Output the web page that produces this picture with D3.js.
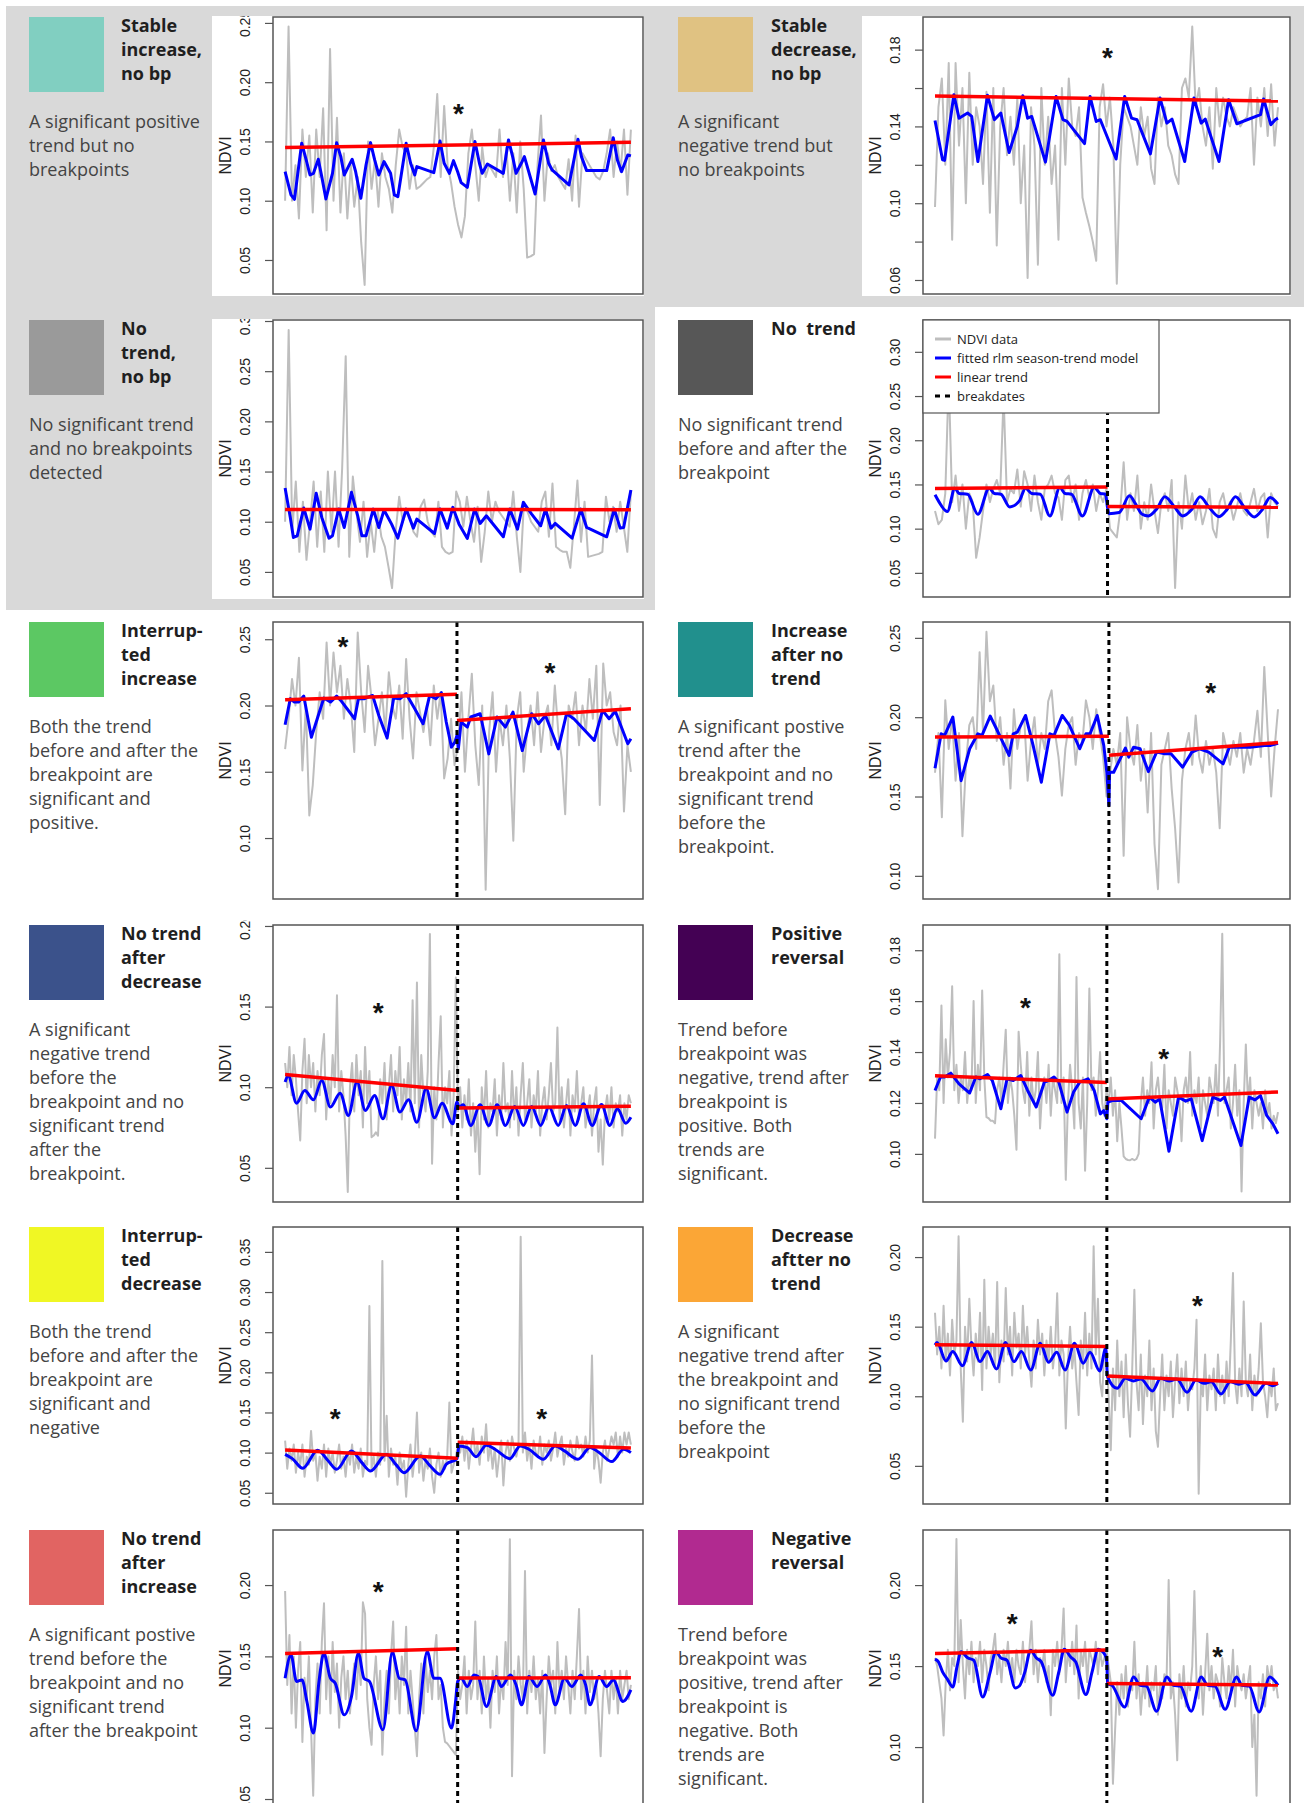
<!DOCTYPE html>
<html>
<head>
<meta charset="utf-8">
<title>NDVI trend classes</title>
<script src="https://cdn.jsdelivr.net/npm/d3@7"></script>
<style>
  body { margin: 0; background: #fff; }
  svg { display: block; }
  .title { font-family: 'Open Sans', sans-serif; font-weight: 700; font-size: 18px; fill: #1f1f1f; white-space: pre; }
  .desc { font-family: 'Open Sans', sans-serif; font-size: 18px; fill: #444; }
  .legend text { font-family: 'Open Sans', sans-serif; font-size: 13px; fill: #222; }
</style>
</head>
<body>
<script>

// stable increase, no bp
let stableIncNdvi = [0.10, 0.247, 0.10, 0.13, 0.085, 0.16, 0.12, 0.155, 0.09, 0.16, 0.12, 0.178, 0.075, 0.228, 0.1, 0.17, 0.09, 0.14, 0.085, 0.13, 0.095, 0.12, 0.065, 0.029, 0.15, 0.11, 0.135, 0.095, 0.14, 0.12, 0.11, 0.09, 0.13, 0.16, 0.145, 0.14, 0.11, 0.13, 0.11, 0.112, 0.115, 0.118, 0.12, 0.145, 0.19, 0.12, 0.18, 0.13, 0.115, 0.095, 0.08, 0.069, 0.087, 0.14, 0.16, 0.13, 0.1, 0.145, 0.12, 0.13, 0.125, 0.12, 0.16, 0.12, 0.145, 0.1, 0.14, 0.09, 0.15, 0.11, 0.052, 0.053, 0.055, 0.13, 0.172, 0.10, 0.14, 0.125, 0.13, 0.12, 0.115, 0.11, 0.135, 0.10, 0.155, 0.095, 0.14, 0.135, 0.13, 0.125, 0.12, 0.118, 0.125, 0.14, 0.16, 0.12, 0.15, 0.125, 0.16, 0.105, 0.16]
let stableIncFit = [[0, 0.1245], [1.7, 0.1049], [2.7, 0.1012], [4.8, 0.1485], [6.1, 0.1344], [7.2, 0.1217], [8.2, 0.1231], [9.6, 0.135], [10.6, 0.1203], [11.8, 0.1015], [13.7, 0.1231], [14.9, 0.149], [16.1, 0.1372], [17.1, 0.1217], [18.3, 0.1288], [19.4, 0.135], [20.4, 0.1245], [21.9, 0.102], [23.4, 0.1302], [24.7, 0.149], [25.9, 0.1344], [27.1, 0.1217], [28.6, 0.133], [30.5, 0.1231], [31.6, 0.1049], [32.6, 0.1034], [33.5, 0.1203], [35, 0.1485], [36.3, 0.1316], [37.5, 0.1217], [38.1, 0.1288], [43, 0.1237], [44.8, 0.1504], [46, 0.1316], [47.5, 0.1231], [48.7, 0.1338], [49.9, 0.1245], [50.9, 0.1153], [52.7, 0.1113], [54.9, 0.1499], [56.2, 0.1316], [57, 0.1231], [58.5, 0.131], [63.1, 0.1231], [64.6, 0.1513], [65.8, 0.1372], [66.8, 0.1231], [68.3, 0.1316], [69.2, 0.1372], [72.3, 0.1057], [74.7, 0.1513], [76.2, 0.1316], [77.2, 0.126], [82.1, 0.1133], [84.7, 0.1518], [85.7, 0.1372], [87.2, 0.1254], [93, 0.1254], [94.9, 0.1532], [96.1, 0.1344], [97.3, 0.1245], [99.1, 0.1386], [100, 0.1378]]

// stable decrease, no bp
let stableDecNdvi = [0.098, 0.15, 0.165, 0.12, 0.173, 0.081, 0.173, 0.13, 0.16, 0.10, 0.168, 0.12, 0.15, 0.14, 0.11, 0.158, 0.095, 0.16, 0.078, 0.14, 0.16, 0.125, 0.145, 0.12, 0.155, 0.10, 0.13, 0.061, 0.15, 0.13, 0.068, 0.16, 0.12, 0.145, 0.11, 0.13, 0.081, 0.16, 0.12, 0.165, 0.14, 0.135, 0.15, 0.103, 0.095, 0.088, 0.08, 0.07, 0.15, 0.162, 0.14, 0.155, 0.13, 0.058, 0.12, 0.15, 0.145, 0.14, 0.13, 0.12, 0.15, 0.135, 0.145, 0.118, 0.11, 0.155, 0.14, 0.15, 0.13, 0.125, 0.115, 0.11, 0.16, 0.165, 0.155, 0.192, 0.15, 0.16, 0.14, 0.13, 0.15, 0.118, 0.16, 0.14, 0.155, 0.145, 0.14, 0.15, 0.145, 0.14, 0.143, 0.145, 0.16, 0.12, 0.155, 0.14, 0.16, 0.135, 0.162, 0.13, 0.15]
let stableDecFit = [[0, 0.1431], [2.2, 0.1226], [2.8, 0.1223], [5.5, 0.1565], [7.0, 0.1443], [8.2, 0.1456], [9.5, 0.147], [10.7, 0.1452], [12.5, 0.1217], [15.3, 0.1562], [17.3, 0.1435], [19.2, 0.147], [21.6, 0.1264], [24.0, 0.14], [25.6, 0.156], [27.0, 0.1443], [28.2, 0.1452], [32.2, 0.1214], [35.3, 0.1556], [37.3, 0.1435], [38.5, 0.1426], [43.6, 0.131], [45.2, 0.1556], [47.0, 0.1426], [48.2, 0.1435], [52.8, 0.123], [55.3, 0.1556], [57.3, 0.1443], [58.9, 0.1435], [62.8, 0.1257], [65.6, 0.1548], [67.6, 0.1417], [69.1, 0.1438], [72.8, 0.1217], [75.5, 0.1548], [77.6, 0.1417], [78.8, 0.1438], [82.8, 0.1217], [85.6, 0.1539], [88.0, 0.1414], [94.9, 0.1461], [95.8, 0.1543], [97.9, 0.1409], [99.2, 0.1435], [100, 0.1443]]

// no trend, no bp
let noTrendNdvi = [0.10, 0.291, 0.09, 0.14, 0.07, 0.12, 0.062, 0.10, 0.14, 0.075, 0.13, 0.07, 0.15, 0.09, 0.15, 0.075, 0.153, 0.265, 0.065, 0.145, 0.11, 0.08, 0.12, 0.065, 0.10, 0.07, 0.11, 0.085, 0.075, 0.055, 0.034, 0.09, 0.125, 0.10, 0.11, 0.105, 0.09, 0.085, 0.115, 0.122, 0.10, 0.09, 0.085, 0.12, 0.075, 0.07, 0.068, 0.07, 0.13, 0.12, 0.095, 0.125, 0.10, 0.08, 0.115, 0.06, 0.09, 0.13, 0.10, 0.12, 0.11, 0.105, 0.10, 0.095, 0.13, 0.085, 0.05, 0.12, 0.11, 0.10, 0.095, 0.09, 0.12, 0.13, 0.085, 0.138, 0.075, 0.072, 0.07, 0.07, 0.054, 0.095, 0.141, 0.08, 0.12, 0.065, 0.066, 0.067, 0.068, 0.07, 0.125, 0.10, 0.115, 0.09, 0.12, 0.095, 0.07, 0.13]
let noTrendFit = [[0, 0.1336], [1.5, 0.1043], [2.4, 0.0843], [3.5, 0.086], [5.4, 0.1136], [7.2, 0.0926], [9.0, 0.1283], [10.6, 0.1043], [12.7, 0.0836], [13.7, 0.086], [15.5, 0.1126], [17.1, 0.0943], [19.2, 0.1293], [21.0, 0.1059], [22.2, 0.086], [23.4, 0.086], [25.5, 0.1126], [27.1, 0.0943], [28.6, 0.1116], [30.8, 0.0976], [32.6, 0.0836], [35.0, 0.1126], [37.1, 0.0936], [38.1, 0.1026], [43.2, 0.0883], [44.8, 0.1126], [46.9, 0.0936], [48.5, 0.1143], [50.3, 0.0976], [52.7, 0.0833], [54.8, 0.1126], [56.4, 0.0983], [58.2, 0.1059], [63.1, 0.085], [65.0, 0.1126], [67.2, 0.0926], [68.9, 0.1193], [71.3, 0.1076], [73.9, 0.096], [75.3, 0.1126], [76.9, 0.0936], [78.1, 0.0983], [83.0, 0.0836], [85.5, 0.1126], [87.2, 0.0943], [93.0, 0.085], [95.2, 0.1126], [96.9, 0.0936], [97.9, 0.0943], [100, 0.1316]]

// no trend, with breakpoint
let noTrendBpNdvi = [0.12, 0.105, 0.11, 0.14, 0.27, 0.13, 0.16, 0.12, 0.15, 0.10, 0.14, 0.13, 0.067, 0.09, 0.12, 0.15, 0.13, 0.145, 0.155, 0.14, 0.25, 0.13, 0.145, 0.14, 0.167, 0.125, 0.165, 0.15, 0.12, 0.16, 0.13, 0.11, 0.145, 0.15, 0.16, 0.14, 0.135, 0.11, 0.155, 0.16, 0.13, 0.15, 0.11, 0.14, 0.155, 0.135, 0.15, 0.12, 0.14, 0.13, 0.145, 0.10, 0.095, 0.09, 0.12, 0.175, 0.11, 0.14, 0.12, 0.16, 0.10, 0.13, 0.11, 0.15, 0.12, 0.095, 0.13, 0.14, 0.12, 0.155, 0.033, 0.13, 0.10, 0.16, 0.12, 0.14, 0.11, 0.13, 0.105, 0.12, 0.145, 0.10, 0.09, 0.13, 0.14, 0.12, 0.13, 0.11, 0.125, 0.14, 0.12, 0.115, 0.13, 0.145, 0.12, 0.135, 0.14, 0.09, 0.14, 0.13, 0.125]
let noTrendBpFit = [[0, 0.1383], [1.0, 0.1314], [3.6, 0.1193], [5.8, 0.1458], [7.0, 0.1398], [9.5, 0.139], [12.5, 0.1163], [15.8, 0.1458], [17.3, 0.1398], [19.2, 0.139], [21.8, 0.1246], [24.6, 0.1314], [26.4, 0.1458], [28.2, 0.1398], [30.7, 0.139], [33.5, 0.1144], [36.4, 0.1466], [37.9, 0.1398], [39.8, 0.139], [43.0, 0.1144], [46.4, 0.1466], [48.2, 0.1398], [49.7, 0.139], [50.3, 0.1239], [50.7, 0.117], [53.7, 0.1182], [56.7, 0.1371], [58.5, 0.1277], [60.4, 0.1163], [62.2, 0.1144], [64.6, 0.122], [67.0, 0.136], [69.8, 0.1246], [72.2, 0.1144], [74.9, 0.122], [77.3, 0.136], [79.8, 0.1246], [82.8, 0.1136], [85.2, 0.122], [87.6, 0.136], [90.1, 0.1246], [93.1, 0.1133], [95.5, 0.122], [97.7, 0.1352], [100, 0.1277]]

// interrupted increase
let intIncNdvi = [0.167, 0.19, 0.22, 0.20, 0.236, 0.151, 0.20, 0.117, 0.14, 0.18, 0.21, 0.19, 0.2475, 0.20, 0.24, 0.21, 0.23, 0.19, 0.22, 0.20, 0.165, 0.255, 0.21, 0.18, 0.23, 0.205, 0.17, 0.19, 0.21, 0.18, 0.225, 0.20, 0.19, 0.215, 0.175, 0.235, 0.19, 0.16, 0.21, 0.195, 0.18, 0.20, 0.17, 0.215, 0.19, 0.21, 0.145, 0.16, 0.19, 0.155, 0.17, 0.21, 0.15, 0.19, 0.224, 0.17, 0.14, 0.20, 0.061, 0.18, 0.21, 0.15, 0.19, 0.17, 0.20, 0.16, 0.098, 0.19, 0.21, 0.15, 0.18, 0.20, 0.17, 0.21, 0.165, 0.19, 0.20, 0.17, 0.215, 0.18, 0.16, 0.118, 0.20, 0.19, 0.21, 0.17, 0.20, 0.18, 0.22, 0.19, 0.23, 0.125, 0.2316, 0.20, 0.21, 0.18, 0.17, 0.20, 0.12, 0.17, 0.15]
let intIncFit = [[0, 0.1855], [1.5, 0.2051], [2.7, 0.2026], [3.9, 0.2026], [5.4, 0.2071], [7.6, 0.1761], [11.2, 0.2056], [13.1, 0.2026], [14.9, 0.2071], [16.1, 0.2039], [20.1, 0.19], [21.2, 0.2051], [22.8, 0.2051], [25.3, 0.2076], [27.1, 0.1925], [29.5, 0.1754], [31.4, 0.2056], [33.2, 0.2051], [35.0, 0.2089], [37.5, 0.1976], [39.9, 0.1862], [41.8, 0.2076], [43.6, 0.2051], [45.2, 0.2097], [46.6, 0.1875], [48.1, 0.1686], [49.1, 0.1724], [49.7, 0.1774], [50.1, 0.1673], [50.9, 0.1875], [52.7, 0.1837], [53.7, 0.1913], [56.4, 0.1938], [58.9, 0.1635], [61.3, 0.1913], [63.7, 0.1837], [65.9, 0.195], [68.6, 0.166], [71.3, 0.1938], [73.3, 0.1862], [75.3, 0.1925], [79.0, 0.1673], [81.4, 0.1938], [83.5, 0.19], [89.4, 0.1736], [91.8, 0.1963], [93.7, 0.19], [95.5, 0.1956], [99.1, 0.1711], [100, 0.1749]]

// increase after no trend
let incAfterNdvi = [0.165, 0.19, 0.137, 0.2106, 0.18, 0.20, 0.16, 0.19, 0.125, 0.17, 0.195, 0.20, 0.18, 0.241, 0.19, 0.2538, 0.21, 0.22, 0.185, 0.20, 0.17, 0.19, 0.155, 0.205, 0.18, 0.195, 0.20, 0.16, 0.185, 0.20, 0.17, 0.19, 0.18, 0.21, 0.2169, 0.19, 0.175, 0.1506, 0.18, 0.195, 0.20, 0.17, 0.19, 0.185, 0.2106, 0.20, 0.18, 0.205, 0.19, 0.175, 0.15, 0.165, 0.18, 0.17, 0.19, 0.1126, 0.20, 0.18, 0.17, 0.195, 0.16, 0.18, 0.14, 0.19, 0.12, 0.0916, 0.17, 0.18, 0.19, 0.155, 0.13, 0.0958, 0.16, 0.18, 0.19, 0.17, 0.2011, 0.175, 0.165, 0.185, 0.17, 0.18, 0.165, 0.13, 0.19, 0.18, 0.17, 0.185, 0.175, 0.19, 0.165, 0.18, 0.17, 0.185, 0.204, 0.175, 0.2317, 0.19, 0.15, 0.18, 0.205]
let incAfterFit = [[0, 0.1678], [1.8, 0.1895], [2.8, 0.1885], [5.2, 0.2001], [7.6, 0.16], [10.1, 0.1801], [12.5, 0.1895], [13.7, 0.1885], [16.1, 0.2007], [17.9, 0.1927], [21.6, 0.1759], [22.8, 0.1895], [24.0, 0.1906], [26.4, 0.2011], [28.6, 0.1822], [31.0, 0.159], [33.5, 0.1895], [34.7, 0.1885], [37.1, 0.2011], [39.2, 0.1948], [42.2, 0.1801], [44.0, 0.1895], [45.2, 0.1895], [47.3, 0.2011], [49.2, 0.1822], [50.1, 0.1653], [50.7, 0.1442], [50.9, 0.1653], [52.1, 0.1653], [55.5, 0.1805], [56.5, 0.1748], [57.9, 0.1811], [59.8, 0.1801], [62.2, 0.1657], [64.6, 0.178], [67.0, 0.1769], [68.8, 0.1769], [72.2, 0.1685], [74.9, 0.178], [77.1, 0.1801], [79.8, 0.178], [84.0, 0.1706], [85.8, 0.1811], [91.9, 0.1811], [96.1, 0.1822], [97.9, 0.1822], [100, 0.1836]]

// no trend after decrease
let flatAfterDecNdvi = [0.115, 0.10, 0.125, 0.095, 0.12, 0.105, 0.085, 0.067, 0.11, 0.13,
  0.09, 0.12, 0.10, 0.115, 0.085, 0.11, 0.095, 0.12, 0.133, 0.08,
  0.105, 0.09, 0.12, 0.10, 0.157, 0.085, 0.11, 0.095, 0.07, 0.035,
  0.10, 0.115, 0.085, 0.12, 0.095, 0.11, 0.075, 0.125, 0.09, 0.11,
  0.069, 0.07, 0.072, 0.07, 0.105, 0.09, 0.115, 0.08, 0.10, 0.12,
  0.085, 0.11, 0.095, 0.125, 0.08, 0.105, 0.09, 0.115, 0.085, 0.154,
  0.09, 0.165, 0.075, 0.12, 0.095, 0.085, 0.11, 0.195, 0.0525, 0.10,
  0.08, 0.115, 0.144, 0.075, 0.10, 0.09, 0.11, 0.07, 0.095, 0.168,
  0.085, 0.10, 0.075, 0.095, 0.08, 0.105, 0.07, 0.09, 0.06, 0.085,
  0.046, 0.10, 0.08, 0.11, 0.075, 0.09, 0.085, 0.105, 0.07, 0.095,
  0.08, 0.115, 0.085, 0.09, 0.075, 0.11, 0.08, 0.1, 0.07, 0.095,
  0.115, 0.08, 0.09, 0.105, 0.075, 0.095, 0.085, 0.11, 0.07, 0.09,
  0.10, 0.08, 0.095, 0.115, 0.085, 0.09, 0.137, 0.08, 0.10, 0.075,
  0.09, 0.105, 0.07, 0.095, 0.085, 0.11, 0.08, 0.09, 0.1, 0.075,
  0.085, 0.095, 0.07, 0.09, 0.10, 0.06, 0.08, 0.052, 0.085, 0.095,
  0.08, 0.10, 0.075, 0.09, 0.085, 0.095, 0.07, 0.09, 0.08, 0.095, 0.09]
let flatAfterDecFit = [[0, 0.1032], [0.9, 0.1073], [3.3, 0.0901], [5.7, 0.098], [8.2, 0.0922], [10.6, 0.1042], [13.1, 0.0877], [15.9, 0.0963], [18.3, 0.0825], [20.8, 0.1032], [23.2, 0.0856], [25.9, 0.0949], [28.3, 0.0804], [30.8, 0.1011], [33.2, 0.0846], [35.7, 0.0922], [38.1, 0.0783], [40.8, 0.099], [43.2, 0.081], [45.4, 0.0901], [48.5, 0.0773], [49.7, 0.0908], [50.3, 0.0877], [51.5, 0.0891], [53.7, 0.0763], [56.4, 0.0891], [58.9, 0.0763], [61.3, 0.0891], [63.7, 0.0763], [66.4, 0.0881], [68.9, 0.0763], [71.3, 0.0881], [73.9, 0.0763], [76.3, 0.0877], [79.0, 0.0763], [81.4, 0.0887], [83.9, 0.0763], [86.3, 0.0897], [88.8, 0.0763], [91.5, 0.0893], [93.9, 0.0763], [96.1, 0.0866], [98.5, 0.0777], [100, 0.0814]]

// positive reversal
let posRevNdvi = [0.106, 0.13, 0.125, 0.1583, 0.12, 0.145, 0.13, 0.14, 0.1658, 0.125,
  0.135, 0.12, 0.13, 0.125, 0.14, 0.12, 0.13, 0.125, 0.16, 0.12,
  0.135, 0.125, 0.1642, 0.13, 0.1144, 0.114, 0.113, 0.113, 0.112, 0.125,
  0.13, 0.12, 0.135, 0.1488, 0.12, 0.13, 0.125, 0.115, 0.1016, 0.148,
  0.135, 0.125, 0.12, 0.14, 0.115, 0.13, 0.12, 0.125, 0.14, 0.11,
  0.125, 0.13, 0.12, 0.135, 0.115, 0.13, 0.125, 0.12, 0.1784, 0.12,
  0.13, 0.0898, 0.12, 0.135, 0.125, 0.11, 0.1695, 0.12, 0.11, 0.13,
  0.0934, 0.12, 0.165, 0.125, 0.13, 0.115, 0.125, 0.14, 0.12, 0.115,
  0.125, 0.12, 0.13, 0.115, 0.125, 0.105, 0.12, 0.11, 0.099, 0.098,
  0.0976, 0.0975, 0.098, 0.0975, 0.098, 0.10, 0.12, 0.13, 0.115, 0.125,
  0.12, 0.136, 0.11, 0.125, 0.13, 0.12, 0.118, 0.135, 0.11, 0.125,
  0.12, 0.115, 0.13, 0.125, 0.12, 0.105, 0.125, 0.13, 0.12, 0.14,
  0.115, 0.125, 0.12, 0.13, 0.11, 0.125, 0.12, 0.115, 0.13, 0.125,
  0.12, 0.135, 0.115, 0.1439, 0.1865, 0.12, 0.125, 0.13, 0.11, 0.12,
  0.135, 0.115, 0.125, 0.0852, 0.12, 0.143, 0.12, 0.13, 0.11, 0.125,
  0.12, 0.115, 0.12, 0.11, 0.125, 0.115, 0.12, 0.11, 0.115, 0.112, 0.1164]
let posRevFit = [[0, 0.1249], [1.6, 0.1302], [2.8, 0.1302], [4.6, 0.1317], [7.0, 0.1275], [10.1, 0.1239], [11.9, 0.1302], [13.1, 0.1295], [15.3, 0.1312], [16.7, 0.1288], [19.2, 0.1177], [21.0, 0.1295], [22.8, 0.1288], [25.0, 0.1308], [27.0, 0.1249], [29.5, 0.1184], [31.9, 0.1282], [33.1, 0.1288], [34.7, 0.1302], [36.1, 0.1282], [38.5, 0.1164], [40.4, 0.1243], [42.2, 0.1282], [44.6, 0.1295], [46.4, 0.1249], [48.2, 0.1157], [49.2, 0.117], [50.1, 0.1138], [50.4, 0.1203], [51.9, 0.121], [54.3, 0.121], [60.1, 0.1138], [62.5, 0.1223], [64.2, 0.1203], [65.5, 0.1216], [68.2, 0.101], [71.0, 0.1223], [73.1, 0.1207], [74.7, 0.1216], [77.9, 0.1052], [81.0, 0.1223], [83.2, 0.121], [84.4, 0.1223], [89.2, 0.1033], [91.6, 0.1223], [93.3, 0.1212], [94.9, 0.1229], [96.7, 0.1151], [98.5, 0.1118], [100, 0.1079]]

// interrupted decrease
let intDecNdvi = [0.115, 0.08, 0.105, 0.09, 0.11, 0.075, 0.10, 0.085, 0.11, 0.07,
  0.095, 0.085, 0.127, 0.09, 0.10, 0.065, 0.095, 0.08, 0.11, 0.07,
  0.105, 0.085, 0.10, 0.075, 0.09, 0.11, 0.08, 0.095, 0.07, 0.10,
  0.085, 0.11, 0.075, 0.095, 0.08, 0.105, 0.07, 0.09, 0.085, 0.2825,
  0.08, 0.095, 0.07, 0.10, 0.085, 0.3388, 0.09, 0.1458, 0.07, 0.105,
  0.085, 0.095, 0.06, 0.10, 0.08, 0.09, 0.045, 0.085, 0.11, 0.07,
  0.095, 0.15, 0.075, 0.10, 0.065, 0.09, 0.08, 0.105, 0.07, 0.05,
  0.085, 0.10, 0.07, 0.09, 0.08, 0.095, 0.1625, 0.075, 0.085, 0.095,
  0.11, 0.10, 0.12, 0.09, 0.115, 0.08, 0.105, 0.13, 0.095, 0.11,
  0.085, 0.12, 0.10, 0.1354, 0.09, 0.11, 0.08, 0.105, 0.07, 0.095,
  0.115, 0.059, 0.10, 0.115, 0.09, 0.12, 0.105, 0.095, 0.11, 0.3688,
  0.10, 0.125, 0.09, 0.11, 0.08, 0.115, 0.10, 0.095, 0.12, 0.085,
  0.11, 0.10, 0.115, 0.09, 0.105, 0.125, 0.095, 0.11, 0.12, 0.085,
  0.105, 0.095, 0.115, 0.10, 0.09, 0.12, 0.105, 0.11, 0.095, 0.12,
  0.10, 0.115, 0.2208, 0.08, 0.105, 0.09, 0.0625, 0.10, 0.115, 0.09,
  0.105, 0.12, 0.11, 0.125, 0.095, 0.12, 0.10, 0.125, 0.11, 0.125, 0.11]
let intDecFit = [[0, 0.0979], [2.1, 0.0925], [5.1, 0.0804], [9.4, 0.1029], [12.5, 0.0896], [14.9, 0.0792], [19.2, 0.1021], [22.2, 0.0875], [24.7, 0.0771], [29.3, 0.0979], [32.0, 0.0854], [34.4, 0.075], [39.1, 0.0958], [41.8, 0.0842], [44.8, 0.0729], [46.6, 0.0854], [49.7, 0.0925], [50.3, 0.1083], [52.7, 0.1063], [55.2, 0.095], [58.2, 0.1092], [60.7, 0.1042], [65.0, 0.0925], [68.0, 0.1083], [70.5, 0.1042], [74.7, 0.0917], [78.1, 0.1083], [80.8, 0.1021], [84.7, 0.0917], [88.2, 0.1063], [90.6, 0.1008], [94.5, 0.0888], [97.9, 0.1042], [100, 0.1000]]

// decrease after no trend
let decAfterNdvi = [0.16, 0.13, 0.15, 0.12, 0.165, 0.125, 0.145, 0.115, 0.155, 0.13,
  0.14, 0.2149, 0.12, 0.0817, 0.15, 0.125, 0.17, 0.135, 0.115, 0.145,
  0.125, 0.16, 0.1045, 0.1837, 0.12, 0.15, 0.13, 0.145, 0.12, 0.182,
  0.11, 0.14, 0.125, 0.1777, 0.13, 0.15, 0.115, 0.16, 0.135, 0.145,
  0.12, 0.165, 0.13, 0.15, 0.125, 0.1069, 0.14, 0.12, 0.155, 0.13,
  0.145, 0.115, 0.14, 0.125, 0.15, 0.12, 0.135, 0.174, 0.115, 0.14,
  0.13, 0.0769, 0.125, 0.15, 0.12, 0.135, 0.11, 0.0865, 0.14, 0.12,
  0.16, 0.115, 0.145, 0.12, 0.2077, 0.13, 0.17, 0.11, 0.10, 0.135,
  0.125, 0.10, 0.0613, 0.12, 0.09, 0.14, 0.10, 0.125, 0.085, 0.13,
  0.095, 0.0709, 0.12, 0.1765, 0.11, 0.09, 0.13, 0.08, 0.115, 0.10,
  0.14, 0.09, 0.12, 0.075, 0.0637, 0.10, 0.13, 0.09, 0.115, 0.10,
  0.125, 0.085, 0.11, 0.13, 0.095, 0.12, 0.10, 0.125, 0.09, 0.11,
  0.105, 0.12, 0.1549, 0.030, 0.11, 0.10, 0.13, 0.09, 0.115, 0.105,
  0.12, 0.09, 0.13, 0.10, 0.115, 0.095, 0.125, 0.10, 0.14, 0.1885,
  0.11, 0.095, 0.12, 0.10, 0.168, 0.11, 0.10, 0.13, 0.09, 0.115,
  0.10, 0.12, 0.1525, 0.11, 0.10, 0.085, 0.11, 0.10, 0.12, 0.09, 0.095]
let decAfterFit = [[0, 0.1369], [0.6, 0.1386], [3.2, 0.1254], [5.2, 0.1321], [8.0, 0.122], [10.7, 0.1386], [13.1, 0.1249], [15.3, 0.1321], [17.9, 0.1196], [20.6, 0.1386], [23.0, 0.1249], [25.2, 0.1321], [27.9, 0.1189], [30.7, 0.1381], [33.1, 0.1244], [35.5, 0.1316], [37.9, 0.1189], [40.7, 0.1381], [43.2, 0.1237], [45.2, 0.1316], [48.0, 0.1182], [49.8, 0.1345], [50.3, 0.1141], [53.1, 0.1057], [55.5, 0.1129], [57.9, 0.111], [60.0, 0.1124], [63.4, 0.1038], [65.8, 0.1129], [68.2, 0.111], [70.5, 0.1124], [73.5, 0.1028], [76.1, 0.1117], [78.5, 0.1093], [80.5, 0.1105], [83.4, 0.1016], [86.1, 0.1105], [88.5, 0.1086], [90.5, 0.1098], [93.3, 0.1009], [96.5, 0.1093], [98.5, 0.1076], [100, 0.1093]]

// no trend after increase
let flatAfterIncNdvi = [0.1958, 0.13, 0.165, 0.11, 0.15, 0.10, 0.14, 0.16, 0.09, 0.135,
  0.12, 0.15, 0.10, 0.0523, 0.12, 0.145, 0.11, 0.16, 0.1872, 0.12,
  0.15, 0.11, 0.16, 0.125, 0.145, 0.10, 0.135, 0.15, 0.12, 0.14,
  0.11, 0.13, 0.145, 0.12, 0.15, 0.13, 0.1879, 0.18, 0.12, 0.10,
  0.088, 0.13, 0.15, 0.12, 0.14, 0.081, 0.12, 0.14, 0.11, 0.15,
  0.1744, 0.12, 0.14, 0.11, 0.15, 0.13, 0.1708, 0.11, 0.14, 0.12,
  0.10, 0.08, 0.12, 0.145, 0.11, 0.15, 0.125, 0.14, 0.12, 0.15,
  0.165, 0.12, 0.13, 0.10, 0.09, 0.089, 0.087, 0.085, 0.083, 0.081,
  0.14, 0.12, 0.13, 0.15, 0.11, 0.14, 0.12, 0.13, 0.1744, 0.12,
  0.14, 0.11, 0.15, 0.12, 0.135, 0.10, 0.14, 0.125, 0.15, 0.11,
  0.135, 0.12, 0.16, 0.13, 0.2322, 0.0659, 0.14, 0.12, 0.15, 0.13,
  0.12, 0.2098, 0.11, 0.14, 0.125, 0.15, 0.12, 0.135, 0.11, 0.14,
  0.0822, 0.12, 0.15, 0.13, 0.14, 0.11, 0.16, 0.125, 0.14, 0.12,
  0.15, 0.13, 0.11, 0.14, 0.12, 0.15, 0.1832, 0.12, 0.14, 0.11,
  0.15, 0.125, 0.14, 0.12, 0.13, 0.11, 0.08, 0.12, 0.14, 0.125,
  0.11, 0.14, 0.12, 0.135, 0.11, 0.14, 0.12, 0.13, 0.14, 0.12, 0.13]
let flatAfterIncFit = [[0, 0.1347], [1.7, 0.151], [3.3, 0.1324], [4.9, 0.1335], [6.3, 0.1184], [8.2, 0.0962], [9.8, 0.1324], [11.2, 0.1522], [13.1, 0.1347], [14.5, 0.1312], [17.1, 0.109], [19.2, 0.1219], [21.2, 0.1522], [22.8, 0.1347], [24.4, 0.1324], [28.3, 0.0985], [31.0, 0.1529], [33.0, 0.1347], [34.7, 0.1335], [37.9, 0.0978], [41.1, 0.1534], [43.0, 0.1347], [44.8, 0.1347], [48.1, 0.0997], [49.3, 0.1184], [49.9, 0.1324], [50.9, 0.1347], [52.7, 0.1289], [54.6, 0.137], [55.8, 0.1359], [58.2, 0.1149], [61.1, 0.1359], [62.5, 0.1289], [65.2, 0.137], [66.8, 0.13], [68.4, 0.116], [70.5, 0.1359], [72.9, 0.1289], [75.3, 0.137], [76.6, 0.13], [78.1, 0.116], [80.8, 0.1347], [82.9, 0.1289], [85.5, 0.137], [86.9, 0.13], [88.2, 0.116], [90.8, 0.1359], [93.0, 0.1289], [94.9, 0.1335], [97.7, 0.1184], [100, 0.1265]]

// negative reversal
let negRevNdvi = [0.155, 0.15, 0.14, 0.13, 0.1072, 0.14, 0.16, 0.135, 0.155, 0.15,
  0.2285, 0.14, 0.1784, 0.15, 0.13, 0.16, 0.145, 0.165, 0.14, 0.155,
  0.15, 0.165, 0.14, 0.16, 0.15, 0.135, 0.155, 0.16, 0.17, 0.145,
  0.155, 0.14, 0.16, 0.15, 0.165, 0.145, 0.155, 0.14, 0.16, 0.15,
  0.145, 0.165, 0.14, 0.155, 0.16, 0.1777, 0.145, 0.16, 0.14, 0.155,
  0.15, 0.16, 0.14, 0.15, 0.1196, 0.16, 0.15, 0.165, 0.145, 0.16,
  0.1856, 0.14, 0.16, 0.15, 0.165, 0.145, 0.175, 0.13, 0.16, 0.15,
  0.165, 0.14, 0.16, 0.155, 0.15, 0.165, 0.145, 0.16, 0.15, 0.155,
  0.16, 0.15, 0.14, 0.0773, 0.11, 0.14, 0.12, 0.145, 0.13, 0.15,
  0.125, 0.14, 0.135, 0.165, 0.13, 0.145, 0.12, 0.14, 0.13, 0.15,
  0.125, 0.14, 0.135, 0.15, 0.12, 0.14, 0.13, 0.145, 0.14, 0.2031,
  0.13, 0.14, 0.12, 0.0918, 0.145, 0.13, 0.15, 0.125, 0.14, 0.135,
  0.15, 0.1963, 0.14, 0.13, 0.15, 0.12, 0.145, 0.17, 0.135, 0.15,
  0.13, 0.145, 0.14, 0.125, 0.155, 0.14, 0.13, 0.15, 0.135, 0.16,
  0.125, 0.15, 0.14, 0.135, 0.145, 0.13, 0.14, 0.15, 0.10, 0.12,
  0.070, 0.14, 0.13, 0.145, 0.125, 0.15, 0.14, 0.15, 0.135, 0.14, 0.13]
let negRevFit = [[0, 0.1542], [1.0, 0.1526], [2.2, 0.1464], [3.6, 0.1419], [5.2, 0.1371], [6.4, 0.1495], [7.6, 0.1588], [9.5, 0.1551], [11.3, 0.1536], [13.9, 0.1309], [16.1, 0.1464], [17.7, 0.1588], [19.2, 0.1551], [21.0, 0.1536], [23.4, 0.1365], [24.6, 0.1377], [26.2, 0.1464], [27.9, 0.1598], [29.5, 0.1551], [31.0, 0.1526], [34.3, 0.132], [36.1, 0.1464], [37.7, 0.1604], [39.5, 0.1557], [41.0, 0.1526], [44.0, 0.1324], [45.8, 0.1464], [47.6, 0.1604], [49.5, 0.1571], [50.1, 0.1526], [50.3, 0.1392], [51.6, 0.1381], [55.3, 0.1247], [57.9, 0.1433], [59.8, 0.1381], [61.6, 0.1377], [64.6, 0.1221], [67.6, 0.1433], [69.5, 0.1381], [71.5, 0.1377], [74.7, 0.1221], [77.6, 0.1433], [79.5, 0.1381], [81.6, 0.1377], [84.6, 0.1233], [87.9, 0.1433], [89.5, 0.1381], [91.6, 0.1377], [94.5, 0.1217], [97.6, 0.1433], [100, 0.1381]]

// panel order: left, right, row by row
let ndviSeries = [stableIncNdvi, stableDecNdvi, noTrendNdvi, noTrendBpNdvi, intIncNdvi, incAfterNdvi, flatAfterDecNdvi, posRevNdvi, intDecNdvi, decAfterNdvi, flatAfterIncNdvi, negRevNdvi]
let fitSeries = [stableIncFit, stableDecFit, noTrendFit, noTrendBpFit, intIncFit, incAfterFit, flatAfterDecFit, posRevFit, intDecFit, decAfterFit, flatAfterIncFit, negRevFit]

// linear trend segments [t0, v0, t1, v1]
let trendSegments = [
  [[0, 0.1448, 100, 0.1493]],
  [[0, 0.1558, 100, 0.1532]],
  [[0, 0.1123, 100, 0.112]],
  [[0, 0.1455, 50.3, 0.147], [50.3, 0.125, 100, 0.1243]],
  [[0, 0.2043, 49.7, 0.2085], [49.7, 0.1887, 100, 0.1975]],
  [[0, 0.1875, 50.7, 0.188], [50.7, 0.176, 100, 0.184]],
  [[0, 0.1079, 49.9, 0.098], [49.9, 0.0871, 100, 0.0882]],
  [[0, 0.1307, 50.1, 0.128], [50.1, 0.1216, 100, 0.1243]],
  [[0, 0.1034, 49.9, 0.0929], [49.9, 0.1129, 100, 0.1059]],
  [[0, 0.137, 50.1, 0.1358], [50.1, 0.1146, 100, 0.1091]],
  [[0, 0.1521, 49.9, 0.1554], [49.9, 0.1348, 100, 0.135]],
  [[0, 0.1578, 50.1, 0.1599], [50.1, 0.1393, 100, 0.1383]]
]
let breakTimes = [null, null, null, 50.3, 49.7, 50.7, 49.9, 50.1, 49.9, 50.1, 49.9, 50.1]
// significance marks [t, ndvi]
let signifMarks = [
  [[50.1, 0.178]], [[50.3, 0.179]], [], [],
  [[16.7, 0.249], [76.6, 0.229]], [[80.4, 0.219]],
  [[26.9, 0.1496]], [[26.4, 0.1597], [66.7, 0.1397]],
  [[14.5, 0.149], [74.2, 0.149]], [[76.5, 0.1695]],
  [[26.9, 0.1995]], [[22.5, 0.1794], [82.4, 0.1594]]
]

let yRanges = [[0.0213, 0.255], [0.0527, 0.197], [0.025, 0.301], [0.0227, 0.336], [0.054, 0.263], [0.0854, 0.260], [0.0288, 0.2006], [0.0811, 0.1899], [0.036, 0.381], [0.0226, 0.2216], [0.0444, 0.2386], [0.063, 0.234]]
let yTicks = [
  [0.05, 0.10, 0.15, 0.20, 0.25],
  [0.06, 0.08, 0.10, 0.12, 0.14, 0.16, 0.18],
  [0.05, 0.10, 0.15, 0.20, 0.25, 0.30],
  [0.05, 0.10, 0.15, 0.20, 0.25, 0.30],
  [0.10, 0.15, 0.20, 0.25],
  [0.10, 0.15, 0.20, 0.25],
  [0.05, 0.10, 0.15, 0.20],
  [0.10, 0.12, 0.14, 0.16, 0.18],
  [0.05, 0.10, 0.15, 0.20, 0.25, 0.30, 0.35],
  [0.05, 0.10, 0.15, 0.20],
  [0.05, 0.10, 0.15, 0.20],
  [0.10, 0.15, 0.20]
]
// only these ticks carry a label in panel 2
let stableDecLabels = [0.06, 0.10, 0.14, 0.18]

let classTitles = [
  ['Stable', 'increase,', 'no bp'],
  ['Stable', 'decrease,', 'no bp'],
  ['No', 'trend,', 'no bp'],
  ['No  trend'],
  ['Interrup-', 'ted', 'increase'],
  ['Increase', 'after no', 'trend'],
  ['No trend', 'after', 'decrease'],
  ['Positive', 'reversal'],
  ['Interrup-', 'ted', 'decrease'],
  ['Decrease', 'aftter no', 'trend'],
  ['No trend', 'after', 'increase'],
  ['Negative', 'reversal']
]
let classText = [
  ['A significant positive', 'trend but no', 'breakpoints'],
  ['A significant', 'negative trend but', 'no breakpoints'],
  ['No significant trend', 'and no breakpoints', 'detected'],
  ['No significant trend', 'before and after the', 'breakpoint'],
  ['Both the trend', 'before and after the', 'breakpoint are', 'significant and', 'positive.'],
  ['A significant postive', 'trend after the', 'breakpoint and no', 'significant trend', 'before the', 'breakpoint.'],
  ['A significant', 'negative trend', 'before the', 'breakpoint and no', 'significant trend', 'after the', 'breakpoint.'],
  ['Trend before', 'breakpoint was', 'negative, trend after', 'breakpoint is', 'positive. Both', 'trends are', 'significant.'],
  ['Both the trend', 'before and after the', 'breakpoint are', 'significant and', 'negative'],
  ['A significant', 'negative trend after', 'the breakpoint and', 'no significant trend', 'before the', 'breakpoint'],
  ['A significant postive', 'trend before the', 'breakpoint and no', 'significant trend', 'after the breakpoint'],
  ['Trend before', 'breakpoint was', 'positive, trend after', 'breakpoint is', 'negative. Both', 'trends are', 'significant.']
]
let swatchColors = ['#81cfc1', '#e0c282', '#9a9a9a', '#575757', '#5cc863', '#21908d', '#3b528b', '#440154', '#f0f724', '#fba636', '#e16462', '#b12a90']

let legendLabels = ['NDVI data', 'fitted rlm season-trend model', 'linear trend', 'breakdates']

// layout
let width = 1304
let height = 1803
let swatchX = [29, 678]
let titleX = [121, 771]
let boxLeft = [273, 923]
let boxWidth = [370, 367]
let rowTop = [17, 320, 622, 925, 1227, 1530]
let boxHeight = 277
let smoothFit = [false, false, false, true, false, false, true, false, true, true, true, true]

let svg = d3.select('body')
  .append('svg')
  .attr('width', width)
  .attr('height', height)

// gray backdrop behind the three no-breakpoint classes
svg.append('path')
  .attr('d', 'M6,6H1304V307H655V610H6Z')
  .attr('fill', '#d9d9d9')

for (let i = 0; i < 12; i++) {
  drawPanel(i)
}

function drawPanel (i) {
  let col = i % 2
  let row = Math.floor(i / 2)
  let left = boxLeft[col]
  let right = left + boxWidth[col]
  let top = rowTop[row]
  let bottom = top + boxHeight
  let onGray = i < 3

  let g = svg.append('g')

  if (onGray) {
    g.append('rect')
      .attr('x', left - 61)
      .attr('y', top - 1)
      .attr('width', right - left + 62)
      .attr('height', boxHeight + 3)
      .attr('fill', '#fff')
  }

  g.append('rect')
    .attr('x', swatchX[col])
    .attr('y', top)
    .attr('width', 75)
    .attr('height', 75)
    .attr('fill', swatchColors[i])

  let title = g.append('text').attr('class', 'title')
  classTitles[i].forEach(function (line, k) {
    title.append('tspan')
      .attr('x', titleX[col])
      .attr('y', top + 14.5 + k * 24)
      .text(line)
  })

  let desc = g.append('text').attr('class', 'desc')
  classText[i].forEach(function (line, k) {
    desc.append('tspan')
      .attr('x', swatchX[col])
      .attr('y', top + 111 + k * 24)
      .text(line)
  })

  let x = d3.scaleLinear().domain([-3.5, 103.5]).range([left, right])
  let y = d3.scaleLinear().domain(yRanges[i]).range([bottom, top])

  svg.append('clipPath')
    .attr('id', 'plot' + i)
    .append('rect')
    .attr('x', left)
    .attr('y', top)
    .attr('width', right - left)
    .attr('height', boxHeight)

  // tick labels get cut off at the top like in the source image
  // (clip rect is in the axis group's own coords)
  svg.append('clipPath')
    .attr('id', 'axis' + i)
    .append('rect')
    .attr('x', -70)
    .attr('y', onGray ? top - 1 : top - 5)
    .attr('width', 80)
    .attr('height', boxHeight + 40)

  let plot = g.append('g').attr('clip-path', 'url(#plot' + i + ')')

  let line = d3.line()
    .x(function (d) { return x(d[0]) })
    .y(function (d) { return y(d[1]) })

  let obs = ndviSeries[i].map(function (v, k, arr) {
    return [k / (arr.length - 1) * 100, v]
  })

  plot.append('path')
    .datum(obs)
    .attr('d', line)
    .attr('fill', 'none')
    .attr('stroke', '#bebebe')
    .attr('stroke-width', 2)
    .attr('stroke-linejoin', 'round')

  plot.append('path')
    .datum(fitSeries[i])
    .attr('d', line.curve(smoothFit[i] ? d3.curveMonotoneX : d3.curveLinear))
    .attr('fill', 'none')
    .attr('stroke', '#0000ff')
    .attr('stroke-width', 3)
    .attr('stroke-linejoin', 'round')

  plot.selectAll('.trend')
    .data(trendSegments[i])
    .enter()
    .append('line')
    .attr('class', 'trend')
    .attr('x1', function (d) { return x(d[0]) })
    .attr('y1', function (d) { return y(d[1]) })
    .attr('x2', function (d) { return x(d[2]) })
    .attr('y2', function (d) { return y(d[3]) })
    .attr('stroke', '#ff0000')
    .attr('stroke-width', 3.5)

  if (breakTimes[i] !== null) {
    g.append('line')
      .attr('x1', x(breakTimes[i]))
      .attr('x2', x(breakTimes[i]))
      .attr('y1', top)
      .attr('y2', bottom)
      .attr('stroke', '#000')
      .attr('stroke-width', 3)
      .attr('stroke-dasharray', '5,4')
  }

  g.selectAll('.mark')
    .data(signifMarks[i])
    .enter()
    .append('text')
    .attr('class', 'mark')
    .attr('x', function (d) { return x(d[0]) })
    .attr('y', function (d) { return y(d[1]) + 15 })
    .attr('text-anchor', 'middle')
    .attr('font-family', 'Liberation Sans, Arial, sans-serif')
    .attr('font-weight', 'bold')
    .attr('font-size', 28)
    .attr('fill', '#111')
    .text('*')

  let fmt = d3.format('.2f')
  let axis = g.append('g')
    .attr('transform', 'translate(' + left + ',0)')
    .attr('clip-path', 'url(#axis' + i + ')')
    .call(d3.axisLeft(y)
      .tickValues(yTicks[i])
      .tickSize(8)
      .tickFormat(function (d) {
        if (i === 1 && stableDecLabels.indexOf(d) < 0) return ''
        return fmt(d)
      }))

  axis.attr('color', '#555')
  axis.select('.domain').remove()
  axis.selectAll('.tick line').attr('stroke-width', 1.2)
  axis.selectAll('.tick text')
    .attr('x', 0)
    .attr('y', 0)
    .attr('dy', '0.36em')
    .attr('transform', 'translate(-28.5,0) rotate(-90)')
    .attr('text-anchor', 'middle')
    .attr('font-family', 'Liberation Sans, Arial, sans-serif')
    .attr('font-size', 14)
    .attr('fill', '#222')

  g.append('text')
    .attr('transform', 'translate(' + (left - 48) + ',' + (top + boxHeight / 2) + ') rotate(-90)')
    .attr('dy', '0.36em')
    .attr('text-anchor', 'middle')
    .attr('font-family', 'Liberation Sans, Arial, sans-serif')
    .attr('font-size', 16)
    .attr('fill', '#222')
    .text('NDVI')

  g.append('rect')
    .attr('x', left)
    .attr('y', top)
    .attr('width', right - left)
    .attr('height', boxHeight)
    .attr('fill', 'none')
    .attr('stroke', '#555')
    .attr('stroke-width', 1.5)

  if (i === 3) drawLegend(g, left, top)
}

function drawLegend (g, left, top) {
  let lg = g.append('g').attr('class', 'legend')
  lg.append('rect')
    .attr('x', left)
    .attr('y', top)
    .attr('width', 236)
    .attr('height', 93)
    .attr('fill', '#fff')
    .attr('stroke', '#555')
    .attr('stroke-width', 1.2)

  let strokes = ['#bebebe', '#0000ff', '#ff0000', '#000']
  let item = lg.selectAll('.item')
    .data(legendLabels)
    .enter()
    .append('g')
    .attr('class', 'item')
    .attr('transform', function (d, k) {
      return 'translate(' + (left + 12) + ',' + (top + 19 + k * 19) + ')'
    })

  item.append('line')
    .attr('x1', 0)
    .attr('x2', 16)
    .attr('stroke', function (d, k) { return strokes[k] })
    .attr('stroke-width', 3)
    .attr('stroke-dasharray', function (d, k) { return k === 3 ? '5,5' : null })

  item.append('text')
    .attr('x', 22)
    .attr('dy', '0.35em')
    .text(function (d) { return d })
}
</script>
</body>
</html>
